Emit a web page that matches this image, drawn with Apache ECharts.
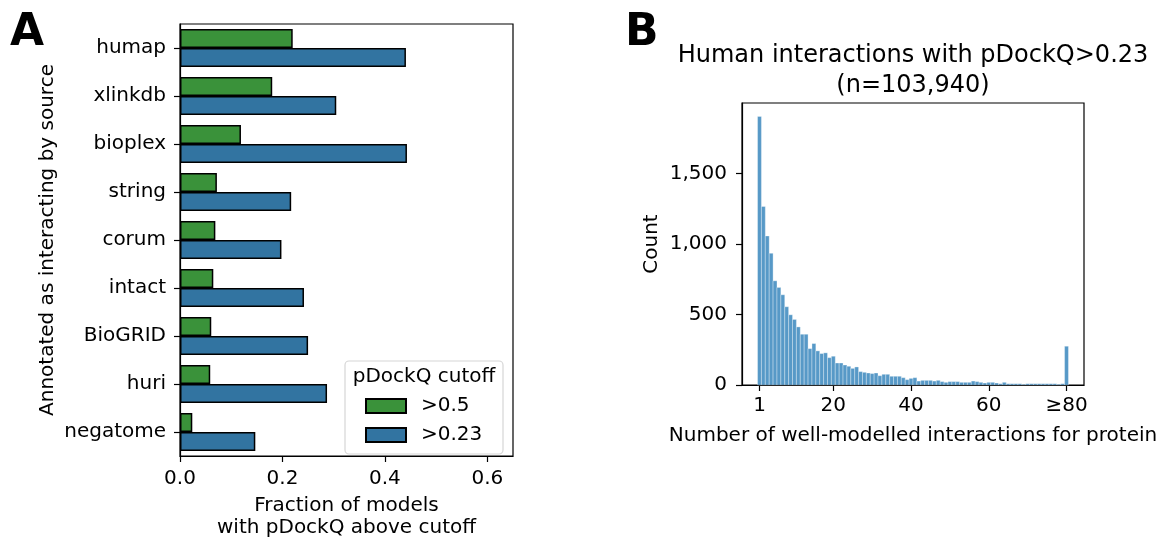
<!DOCTYPE html>
<html>
<head>
<meta charset="utf-8">
<script src="https://cdn.jsdelivr.net/npm/echarts@6/dist/echarts.min.js"></script>
<style>
  html, body { margin: 0; padding: 0; background: #fff; }
  #chart { width: 1165px; height: 544px; }
</style>
</head>
<body>
<div id="chart"></div>
<script>
// A: fraction of models by source
const sources = ['humap', 'xlinkdb', 'bioplex', 'string', 'corum', 'intact', 'BioGRID', 'huri', 'negatome']
const frac05 = [0.220, 0.180, 0.119, 0.072, 0.069, 0.065, 0.061, 0.059, 0.024]
const frac023 = [0.441, 0.305, 0.443, 0.217, 0.198, 0.242, 0.250, 0.287, 0.147]
const fracTicks = [0, 0.2, 0.4, 0.6]

// B: histogram of well-modelled interactions per protein
const bins = [
  1, 2, 3, 4, 5, 6, 7, 8, 9, 10, 11, 12, 13, 14, 15, 16, 17, 18, 19, 20,
  21, 22, 23, 24, 25, 26, 27, 28, 29, 30, 31, 32, 33, 34, 35, 36, 37, 38, 39, 40,
  41, 42, 43, 44, 45, 46, 47, 48, 49, 50, 51, 52, 53, 54, 55, 56, 57, 58, 59, 60,
  61, 62, 63, 64, 65, 66, 67, 68, 69, 70, 71, 72, 73, 74, 75, 76, 77, 78, 79, 80
]
const counts = [
  1905, 1266, 1057, 934, 739, 692, 640, 555, 498, 465, 412, 360, 360, 258, 294, 242, 223, 228, 194, 204,
  156, 156, 142, 133, 118, 128, 95, 90, 85, 81, 85, 66, 76, 76, 62, 62, 62, 52, 38, 47,
  52, 28, 33, 33, 33, 28, 33, 24, 19, 24, 24, 24, 19, 19, 19, 28, 24, 19, 14, 19,
  19, 14, 9, 19, 9, 9, 9, 9, 5, 9, 9, 9, 9, 9, 9, 9, 9, 5, 9, 275
]
const binTicks = [1, 20, 40, 60, 80]
const countTicks = [0, 500, 1000, 1500]

const FONT = 'DejaVu Sans'
const chart = echarts.init(document.getElementById('chart'))

const axisCommon = {
  axisLine: { show: true, onZero: false, lineStyle: { color: '#000', width: 1.2 } },
  axisTick: { show: true, length: 6, lineStyle: { color: '#000', width: 1.2 } },
  axisLabel: { color: '#000', fontSize: 20, fontFamily: FONT },
  splitLine: { show: false },
  nameTextStyle: { color: '#000', fontSize: 20, fontFamily: FONT }
}

chart.setOption({
  animation: false,
  textStyle: { fontFamily: FONT },
  grid: [
    { left: 180, top: 24, width: 333, height: 439, show: true, borderColor: '#000', borderWidth: 1.2 },
    { left: 742, top: 103, width: 342, height: 282, show: true, borderColor: '#000', borderWidth: 1.2 }
  ],
  xAxis: [
    {
      ...axisCommon,
      gridIndex: 0,
      type: 'value',
      min: 0,
      max: 0.65,
      axisTick: { ...axisCommon.axisTick, customValues: fracTicks },
      axisLabel: { ...axisCommon.axisLabel, margin: 13, customValues: fracTicks, formatter: v => v.toFixed(1) },
      name: 'Fraction of models\nwith pDockQ above cutoff',
      nameLocation: 'middle',
      nameGap: 39,
      nameTextStyle: { ...axisCommon.nameTextStyle, lineHeight: 22 }
    },
    {
      ...axisCommon,
      gridIndex: 1,
      type: 'value',
      min: -3.5,
      max: 84.5,
      axisTick: { ...axisCommon.axisTick, customValues: binTicks },
      axisLabel: { ...axisCommon.axisLabel, margin: 11, customValues: binTicks, formatter: v => (v === 80 ? '≥80' : String(v)) },
      name: 'Number of well-modelled interactions for protein',
      nameLocation: 'middle',
      nameGap: 41
    }
  ],
  yAxis: [
    {
      ...axisCommon,
      gridIndex: 0,
      type: 'category',
      inverse: true,
      data: sources,
      axisTick: { ...axisCommon.axisTick, alignWithLabel: true },
      axisLabel: { ...axisCommon.axisLabel, margin: 14 },
      name: 'Annotated as interacting by source',
      nameLocation: 'middle',
      nameGap: 122
    },
    {
      ...axisCommon,
      gridIndex: 1,
      type: 'value',
      min: 0,
      max: 2000,
      axisTick: { ...axisCommon.axisTick, customValues: countTicks },
      axisLabel: { ...axisCommon.axisLabel, margin: 15, customValues: countTicks, formatter: v => v.toLocaleString('en-US') },
      name: 'Count',
      nameLocation: 'middle',
      nameGap: 80
    }
  ],
  legend: {
    orient: 'vertical',
    left: 365,
    top: 396,
    padding: 0,
    icon: 'rect',
    itemWidth: 40,
    itemHeight: 14,
    itemGap: 9,
    z: 10,
    data: ['>0.5', '>0.23'],
    textStyle: { color: '#000', fontSize: 20, lineHeight: 20, fontFamily: FONT, padding: [0, 0, 0, 10] }
  },
  graphic: [
    { type: 'text', left: 10, top: 12, style: { text: 'A', fontSize: 44, fontWeight: 'bold', fontFamily: FONT, fill: '#000' } },
    { type: 'text', left: 625, top: 12, style: { text: 'B', fontSize: 44, fontWeight: 'bold', fontFamily: FONT, fill: '#000' } },
    { type: 'text', x: 913, y: 56, style: { text: 'Human interactions with pDockQ>0.23', fontSize: 24, fontFamily: FONT, fill: '#000', align: 'center', verticalAlign: 'middle' } },
    { type: 'text', x: 913, y: 86, style: { text: '(n=103,940)', fontSize: 24, fontFamily: FONT, fill: '#000', align: 'center', verticalAlign: 'middle' } },
    // 图例边框和标题
    { type: 'rect', z: 5, shape: { x: 345, y: 361, width: 158, height: 93, r: 4 }, style: { fill: 'rgba(255,255,255,0.85)', stroke: '#d6d6d6', lineWidth: 1.2 } },
    { type: 'text', z: 6, x: 424, y: 377, style: { text: 'pDockQ cutoff', fontSize: 20, fontFamily: FONT, fill: '#000', align: 'center', verticalAlign: 'middle' } }
  ],
  series: [
    {
      name: '>0.5',
      type: 'bar',
      xAxisIndex: 0,
      yAxisIndex: 0,
      data: frac05,
      barWidth: 19,
      barGap: '0%',
      itemStyle: { color: '#3a923a', borderColor: '#000', borderWidth: 1.5 }
    },
    {
      name: '>0.23',
      type: 'bar',
      xAxisIndex: 0,
      yAxisIndex: 0,
      data: frac023,
      barWidth: 19,
      barGap: '0%',
      itemStyle: { color: '#3274a1', borderColor: '#000', borderWidth: 1.5 }
    },
    {
      name: 'count',
      type: 'custom',
      xAxisIndex: 1,
      yAxisIndex: 1,
      data: bins.map((b, i) => [b, counts[i]]),
      renderItem: (params, api) => {
        const x = api.value(0)
        const y = api.value(1)
        const p0 = api.coord([x - 0.5, y])
        const p1 = api.coord([x + 0.5, 0])
        return {
          type: 'rect',
          shape: { x: p0[0], y: p0[1], width: p1[0] - p0[0], height: p1[1] - p0[1] },
          style: { fill: 'rgba(31,119,180,0.75)', stroke: 'rgba(255,255,255,0.55)', lineWidth: 0.6 }
        }
      }
    }
  ]
})
</script>
</body>
</html>
